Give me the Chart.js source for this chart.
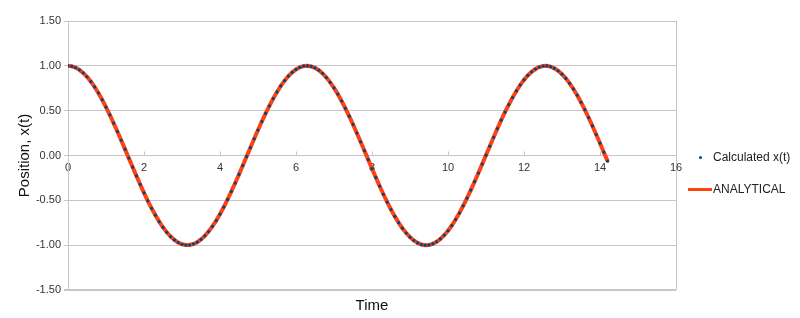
<!DOCTYPE html>
<html>
<head>
<meta charset="utf-8">
<script src="https://cdn.jsdelivr.net/npm/chart.js@4/dist/chart.umd.min.js"></script>
<style>
    html, body { margin: 0; padding: 0; background: #fff; }
    #wrap { position: relative; width: 800px; height: 318px; font-family: "Liberation Sans", Arial, sans-serif; }
    #legend { position: absolute; left: 686px; top: 148px; font-size: 12px; color: #222; }
    .item { position: relative; height: 32px; line-height: 18px; padding-left: 27px; white-space: nowrap; }
    .mark { position: absolute; }
</style>
</head>
<body>
<div id="wrap">
    <canvas id="posChart" width="800" height="318"></canvas>
    <div id="legend"></div>
</div>
<script>
// time samples (step 0.1) and values
const times = [
    0.0, 0.1, 0.2, 0.3, 0.4, 0.5, 0.6, 0.7, 0.8, 0.9,
    1.0, 1.1, 1.2, 1.3, 1.4, 1.5, 1.6, 1.7, 1.8, 1.9,
    2.0, 2.1, 2.2, 2.3, 2.4, 2.5, 2.6, 2.7, 2.8, 2.9,
    3.0, 3.1, 3.2, 3.3, 3.4, 3.5, 3.6, 3.7, 3.8, 3.9,
    4.0, 4.1, 4.2, 4.3, 4.4, 4.5, 4.6, 4.7, 4.8, 4.9,
    5.0, 5.1, 5.2, 5.3, 5.4, 5.5, 5.6, 5.7, 5.8, 5.9,
    6.0, 6.1, 6.2, 6.3, 6.4, 6.5, 6.6, 6.7, 6.8, 6.9,
    7.0, 7.1, 7.2, 7.3, 7.4, 7.5, 7.6, 7.7, 7.8, 7.9,
    8.0, 8.1, 8.2, 8.3, 8.4, 8.5, 8.6, 8.7, 8.8, 8.9,
    9.0, 9.1, 9.2, 9.3, 9.4, 9.5, 9.6, 9.7, 9.8, 9.9,
    10.0, 10.1, 10.2, 10.3, 10.4, 10.5, 10.6, 10.7, 10.8, 10.9,
    11.0, 11.1, 11.2, 11.3, 11.4, 11.5, 11.6, 11.7, 11.8, 11.9,
    12.0, 12.1, 12.2, 12.3, 12.4, 12.5, 12.6, 12.7, 12.8, 12.9,
    13.0, 13.1, 13.2, 13.3, 13.4, 13.5, 13.6, 13.7, 13.8, 13.9,
    14.0, 14.1, 14.2
];

const calculatedX = [
    1.000, 0.995, 0.980, 0.955, 0.921, 0.878, 0.825, 0.765, 0.697, 0.622,
    0.540, 0.454, 0.362, 0.267, 0.170, 0.071, -0.029, -0.129, -0.227, -0.323,
    -0.416, -0.505, -0.589, -0.666, -0.737, -0.801, -0.857, -0.904, -0.942, -0.971,
    -0.990, -0.999, -0.998, -0.987, -0.967, -0.936, -0.897, -0.848, -0.791, -0.726,
    -0.654, -0.575, -0.490, -0.401, -0.307, -0.211, -0.112, -0.012, 0.087, 0.186,
    0.284, 0.378, 0.469, 0.554, 0.635, 0.709, 0.776, 0.835, 0.886, 0.927,
    0.960, 0.983, 0.997, 1.000, 0.993, 0.977, 0.951, 0.916, 0.869, 0.816,
    0.754, 0.685, 0.608, 0.526, 0.439, 0.347, 0.251, 0.153, 0.054, -0.046,
    -0.146, -0.244, -0.340, -0.432, -0.520, -0.602, -0.679, -0.748, -0.811, -0.865,
    -0.911, -0.948, -0.975, -0.993, -1.000, -0.997, -0.985, -0.962, -0.930, -0.889,
    -0.839, -0.781, -0.714, -0.641, -0.561, -0.476, -0.386, -0.292, -0.195, -0.096,
    0.004, 0.104, 0.203, 0.300, 0.394, 0.484, 0.568, 0.647, 0.720, 0.786,
    0.844, 0.893, 0.933, 0.964, 0.986, 0.998, 1.000, 0.991, 0.972, 0.944,
    0.907, 0.860, 0.805, 0.742, 0.672, 0.594, 0.511, 0.423, 0.330, 0.234,
    0.137, 0.037, -0.063
];

// the analytical curve sits right under the calculated dots
const analyticalX = calculatedX.slice();

const seriesNames = ["Calculated x(t)", "ANALYTICAL"];
const xTicks = [0, 2, 4, 6, 8, 10, 12, 14, 16];
const yTicks = [-1.5, -1.0, -0.5, 0.0, 0.5, 1.0, 1.5];

const BLUE = "#004586";
const ORANGE = "#ff420e";
const GRID = "#c6c6c6";
const FONT = "'Liberation Sans', Arial, sans-serif";

const toPoints = (ys) => times.map((t, i) => ({ x: t, y: ys[i] }));

// small upward tick marks on the x axis (it crosses at y = 0)
const xTickMarks = {
    id: "xTickMarks",
    afterDatasetsDraw(chart) {
        const { ctx, scales } = chart;
        const y0 = scales.y.getPixelForValue(0);
        ctx.save();
        ctx.strokeStyle = GRID;
        ctx.lineWidth = 1;
        xTicks.forEach(v => {
            const px = Math.round(scales.x.getPixelForValue(v)) + 0.5;
            ctx.beginPath();
            ctx.moveTo(px, y0);
            ctx.lineTo(px, y0 - 4);
            ctx.stroke();
        });
        ctx.restore();
    }
};

const ctx = document.getElementById("posChart").getContext("2d");
const chart = new Chart(ctx, {
    type: "scatter",
    data: {
        datasets: [{
            label: seriesNames[0],
            data: toPoints(calculatedX),
            showLine: false,
            pointRadius: 1.6,
            pointBorderWidth: 0,
            pointBackgroundColor: BLUE,
            borderColor: BLUE,
            backgroundColor: BLUE
        }, {
            label: seriesNames[1],
            data: toPoints(analyticalX),
            showLine: true,
            tension: 0,
            borderColor: ORANGE,
            backgroundColor: ORANGE,
            borderWidth: 4,
            pointRadius: 0
        }]
    },
    options: {
        responsive: false,
        animation: false,
        layout: { padding: { top: 21, right: 124, left: 0, bottom: 0 } },
        plugins: {
            legend: { display: false },
            tooltip: { enabled: false },
            title: {
                display: true,
                text: "Time",
                position: "bottom",
                fullSize: false,
                color: "#111",
                font: { family: FONT, size: 15, weight: "normal" },
                padding: { top: 7, bottom: 3 }
            }
        },
        scales: {
            x: {
                type: "linear",
                min: 0,
                max: 16,
                position: { y: 0 },
                afterBuildTicks: (scale) => { scale.ticks = xTicks.map(v => ({ value: v })); },
                ticks: {
                    color: "#333",
                    font: { family: FONT, size: 11 },
                    padding: 6,
                    maxRotation: 0
                },
                grid: {
                    drawTicks: false,
                    color: (c) => (c.tick && c.tick.value === 16 ? GRID : "rgba(0,0,0,0)")
                },
                border: { display: true, color: GRID }
            },
            y: {
                min: -1.5,
                max: 1.5,
                afterBuildTicks: (scale) => { scale.ticks = yTicks.map(v => ({ value: v })); },
                afterFit: (scale) => { scale.width = 68; },
                ticks: {
                    color: "#333",
                    font: { family: FONT, size: 11 },
                    padding: 3,
                    callback: (v) => Number(v).toFixed(2)
                },
                grid: {
                    drawTicks: true,
                    tickLength: 4,
                    color: GRID,
                    lineWidth: (c) => (c.tick && c.tick.value === -1.5 ? 2 : 1)
                },
                border: { display: true, color: GRID },
                title: {
                    display: true,
                    text: "Position, x(t)",
                    color: "#111",
                    font: { family: FONT, size: 15 },
                    padding: { top: 16, bottom: 0 }
                }
            }
        }
    },
    plugins: [xTickMarks]
});

// legend as plain html next to the plot
const legendEl = document.getElementById("legend");
chart.data.datasets.forEach((ds, i) => {
    const item = document.createElement("div");
    item.className = "item";
    const mark = document.createElement("span");
    mark.className = "mark";
    if (i === 0) {
        mark.style.cssText = "left:13px;top:8px;width:3px;height:3px;border-radius:50%;background:" + ds.pointBackgroundColor;
    } else {
        mark.style.cssText = "left:2px;top:8px;width:24px;height:3px;background:" + ds.borderColor;
    }
    item.appendChild(mark);
    item.appendChild(document.createTextNode(ds.label));
    legendEl.appendChild(item);
});
</script>
</body>
</html>
